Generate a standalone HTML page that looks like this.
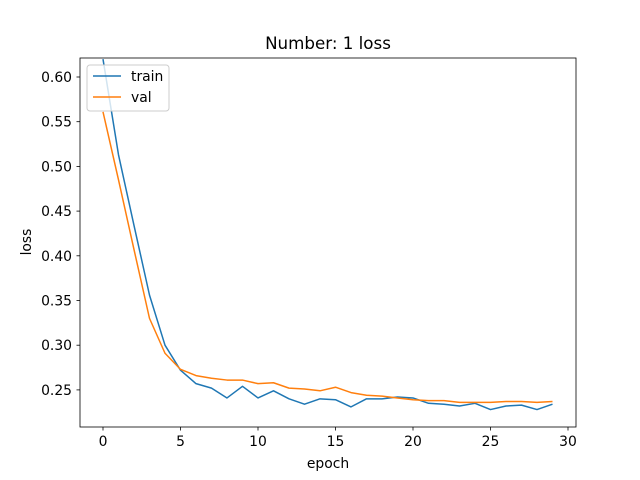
<!DOCTYPE html>
<html><head><meta charset="utf-8"><style>
body{margin:0;background:#fff;}
svg{display:block;font-family:"DejaVu Sans","Liberation Sans",sans-serif;}
</style></head><body>
<svg id="chart" width="640" height="480" viewBox="0 0 640 480">
<defs><clipPath id="clip"><rect x="80" y="58" width="496" height="369"/></clipPath></defs>
<rect width="640" height="480" fill="#fff"/>
<text x="328" y="49" font-size="16.7" text-anchor="middle">Number: 1 loss</text>
<text x="328" y="468" font-size="13.9" text-anchor="middle">epoch</text>
<text x="31" y="242" font-size="13.9" text-anchor="middle" transform="rotate(-90 31 242)">loss</text>
<g id="ticks"></g>
<g id="lines" clip-path="url(#clip)"></g>
<rect x="80" y="58" width="496" height="369" fill="none" stroke="#000" stroke-width="0.8"/>
<g>
<rect x="87" y="65" width="82" height="46" rx="3" fill="#fff" fill-opacity="0.8" stroke="#ccc" stroke-width="1"/>
<line x1="93" y1="76" x2="121" y2="76" stroke="#1f77b4" stroke-width="1.5"/>
<text x="131" y="81" font-size="13.9">train</text>
<line x1="93" y1="97" x2="121" y2="97" stroke="#ff7f0e" stroke-width="1.5"/>
<text x="131" y="102" font-size="13.9">val</text>
</g>
</svg>
<script>
const epochs = Array.from({length:30},(_, i)=>i);
const trainLoss = [0.62,0.513,0.434,0.356,0.30,0.272,0.257,0.252,0.241,0.254,0.241,0.249,0.240,0.234,0.240,0.239,0.231,0.240,0.240,0.242,0.241,0.235,0.234,0.232,0.235,0.228,0.232,0.233,0.228,0.234];
const valLoss = [0.561,0.485,0.407,0.33,0.291,0.273,0.266,0.263,0.261,0.261,0.257,0.258,0.252,0.251,0.249,0.253,0.247,0.244,0.243,0.241,0.239,0.238,0.238,0.236,0.236,0.236,0.237,0.237,0.236,0.237];
const xTicks = [0,5,10,15,20,25,30];
const yTicks = [0.25,0.30,0.35,0.40,0.45,0.50,0.55,0.60];

const NS="http://www.w3.org/2000/svg";
function xs(v){return 103+v*15.5;}
function ys(v){return 77+(0.60-v)*894;}
const tg=document.getElementById('ticks');
xTicks.forEach(t=>{
  const l=document.createElementNS(NS,'line');
  l.setAttribute('x1',xs(t));l.setAttribute('x2',xs(t));l.setAttribute('y1',427);l.setAttribute('y2',430.5);
  l.setAttribute('stroke','#000');l.setAttribute('stroke-width','0.8');
  
  
  tg.appendChild(l);
  const tx=document.createElementNS(NS,'text');
  tx.setAttribute('x',xs(t));tx.setAttribute('y',446);tx.setAttribute('font-size','13.9');tx.setAttribute('text-anchor','middle');
  tx.textContent=t;
  
  
  tg.appendChild(tx);
});
yTicks.forEach(t=>{
  const l=document.createElementNS(NS,'line');
  l.setAttribute('x1',76.5);l.setAttribute('x2',80);l.setAttribute('y1',ys(t));l.setAttribute('y2',ys(t));
  l.setAttribute('stroke','#000');l.setAttribute('stroke-width','0.8');
  
  
  tg.appendChild(l);
  const tx=document.createElementNS(NS,'text');
  tx.setAttribute('x',72);tx.setAttribute('y',ys(t)+5);tx.setAttribute('font-size','13.9');tx.setAttribute('text-anchor','end');
  tx.textContent=t.toFixed(2);
  
  
  tg.appendChild(tx);
});
const lg=document.getElementById('lines');
function drawLine(vals,color,name){
  const p=document.createElementNS(NS,'polyline');
  p.setAttribute('points',vals.map((v,i)=>xs(epochs[i])+','+ys(v)).join(' '));
  p.setAttribute('fill','none');p.setAttribute('stroke',color);p.setAttribute('stroke-width','1.5');
  p.setAttribute('stroke-linejoin','round');
  
  
  lg.appendChild(p);
}
drawLine(trainLoss,'#1f77b4','train-line');
drawLine(valLoss,'#ff7f0e','val-line');
</script>
</body></html>
